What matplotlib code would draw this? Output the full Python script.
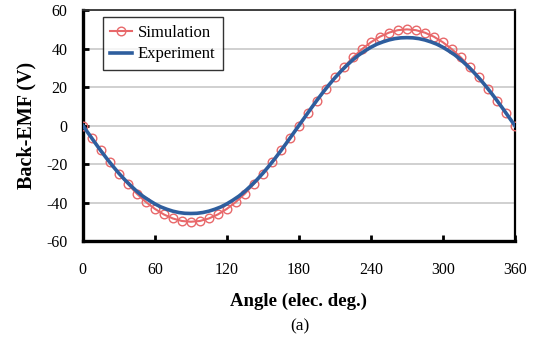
import numpy as np
import matplotlib
matplotlib.use("Agg")
import matplotlib.pyplot as plt

plt.rcParams['font.family'] = ['Liberation Serif', 'DejaVu Serif']
plt.rcParams['axes.unicode_minus'] = False

# simulation points every 7.5 elec. deg
sim_angle = [i * 7.5 for i in range(49)]
sim_half = [0, 6.5, 12.9, 19.1, 25.0, 30.4, 35.4, 39.7, 43.3, 46.2, 48.3, 49.6, 50.0,
            49.6, 48.3, 46.2, 43.3, 39.7, 35.4, 30.4, 25.0, 19.1, 12.9, 6.5]
sim_emf = [-v for v in sim_half] + [v for v in [0] + sim_half[1:]] + [0]

# measured back-EMF every 5 elec. deg
exp_angle = [i * 5 for i in range(73)]
exp_half = [0, 4.4, 8.8, 13.1, 17.2, 21.1, 24.8, 28.2, 31.3, 34.2, 36.7, 38.8, 40.7,
            42.3, 43.5, 44.5, 45.2, 45.6, 45.7, 45.6, 45.2, 44.5, 43.5, 42.3, 40.7,
            38.8, 36.7, 34.2, 31.3, 28.2, 24.8, 21.1, 17.2, 13.1, 8.8, 4.4]
exp_emf = [-v for v in exp_half] + [v for v in [0] + exp_half[1:]] + [0]

fig = plt.figure(figsize=(5.38, 3.38), dpi=100)
ax = fig.add_axes([0.154, 0.287, 0.803, 0.683])

ax.plot(sim_angle, sim_emf, color='#E8686A', lw=1.5, marker='o', ms=6.2,
        mfc='none', mec='#E8686A', mew=1.0, label='Simulation', zorder=3)
ax.plot(exp_angle, exp_emf, color='#2E5E9E', lw=2.6, label='Experiment', zorder=4)

ax.set_xlim(0, 360)
ax.set_ylim(-60, 60)
ax.set_xticks(range(0, 361, 60))
ax.set_yticks(range(-60, 61, 20))
ax.yaxis.grid(True, color='#C8C8C8', lw=1.2)
ax.set_axisbelow(True)
ax.tick_params(direction='in', length=4, width=2, labelsize=11.5)
ax.tick_params(axis='x', pad=15)
ax.tick_params(axis='y', pad=11)

for s in ['left', 'bottom']:
    ax.spines[s].set_linewidth(2.4)
    ax.spines[s].set_color('black')
ax.spines['top'].set_linewidth(1.3)
ax.spines['top'].set_color('#333333')
ax.spines['right'].set_linewidth(1.6)
ax.spines['right'].set_color('black')

ax.set_ylabel('Back-EMF (V)', fontsize=14.5, fontweight='bold', labelpad=7)
ax.set_xlabel('Angle (elec. deg.)', fontsize=13.5, fontweight='bold', labelpad=11)
fig.text(0.557, 0.035, '(a)', ha='center', va='center', fontsize=12.5)

leg = ax.legend(loc='upper left', fontsize=12, frameon=True, fancybox=False,
                edgecolor='black', handlelength=1.3, borderpad=0.45,
                labelspacing=0.35, handletextpad=0.35, borderaxespad=0,
                bbox_to_anchor=(0.046, 0.97), numpoints=1)
leg.get_frame().set_linewidth(1.0)

fig.savefig('out.png', dpi=100)
